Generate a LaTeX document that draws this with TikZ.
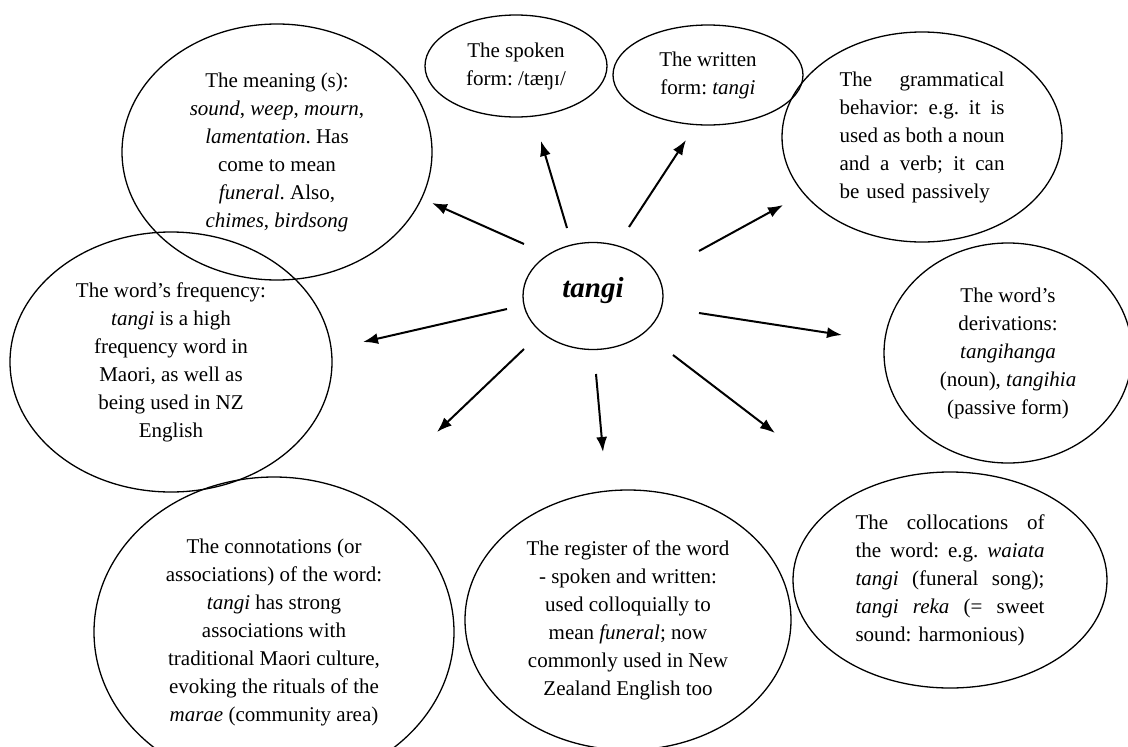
\documentclass[tikz,border=0pt]{standalone}
\usepackage{fontspec}
\setmainfont{Liberation Serif}
\usetikzlibrary{arrows.meta,shapes.geometric}

% one justified line: words split by \hfill
\newcommand{\fullline}[2][165pt]{\makebox[#1][s]{#2}}
\frenchspacing

\begin{document}
\begin{tikzpicture}
    [
      x=1pt,y=-1pt,
      idea/.style={ellipse,draw,line width=1.3pt,inner sep=0pt,align=center,
        font=\fontsize{21}{28}\selectfont},
      post/.style={-{Latex[length=15pt,width=11pt]},line width=2pt},
    ]
    \clip (0,0) rectangle (1128,747);

    \node (tangi) [idea,minimum width=140pt,minimum height=107pt,
      text height=20pt,text depth=17pt,font=\fontsize{29}{34}\selectfont]
      at (593,296) {\textbf{\textit{tangi}}};

    \node (meaning) [idea,minimum width=310pt,minimum height=256pt] at (277,152)
      {The meaning (s):\\ \textit{sound}, \textit{weep}, \textit{mourn},\\
       \textit{lamentation}. Has\\ come to mean\\ \textit{funeral}. Also,\\
       \textit{chimes}, \textit{birdsong}};
    \node (spoken) [idea,minimum width=182pt,minimum height=102pt] at (516,66)
      {The spoken\\ form: /tæŋɪ/};
    \node (written) [idea,minimum width=190pt,minimum height=100pt] at (708,75)
      {The written\\ form: \textit{tangi}};
    \node (grammar) [idea,minimum width=280pt,minimum height=210pt,
      text width=165pt,align=left] at (922,137)
      {\fullline{The\hfill grammatical}\\
       \fullline{behavior:\hfill e.g.\hfill it\hfill is}\\
       \fullline{used\hfill as\hfill both\hfill a\hfill noun}\\
       \fullline{and\hfill a\hfill verb;\hfill it\hfill can}\\
       be used passively};
    \node (frequency) [idea,minimum width=322pt,minimum height=260pt] at (171,362)
      {The word’s frequency:\\ \textit{tangi} is a high\\ frequency word in\\
       Maori, as well as\\ being used in NZ\\ English};
    \node (derivation) [idea,minimum width=248pt,minimum height=220pt] at (1008,353)
      {The word’s\\ derivations:\\ \textit{tangihanga}\\ (noun), \textit{tangihia}\\
       (passive form)};
    \node (connotation) [idea,minimum width=360pt,minimum height=310pt] at (274,632)
      {The connotations (or\\ associations) of the word:\\ \textit{tangi} has strong\\
       associations with\\ traditional Maori culture,\\ evoking the rituals of the\\
       \textit{marae} (community area)};
    \node (register) [idea,minimum width=326pt,minimum height=260pt] at (628,620)
      {The register of the word\\ - spoken and written:\\ used colloquially to\\
       mean \textit{funeral}; now\\ commonly used in New\\ Zealand English too};
    \node (collocation) [idea,minimum width=314pt,minimum height=216pt,
      text width=189pt,align=left] at (950,580)
      {\fullline[189pt]{The\hfill collocations\hfill of}\\
       \fullline[189pt]{the\hfill word:\hfill e.g.\hfill \textit{waiata}}\\
       \fullline[189pt]{\textit{tangi}\hfill (funeral\hfill song);}\\
       \fullline[189pt]{\textit{tangi}\hfill \textit{reka}\hfill (=\hfill sweet}\\
       sound: harmonious)};

    \coordinate (meaning-from) at (524,244);
    \coordinate (meaning-to) at (432,203);
    \coordinate (spoken-from) at (567,228);
    \coordinate (spoken-to) at (541,141);
    \coordinate (written-from) at (629,227);
    \coordinate (written-to) at (686,140);
    \coordinate (grammar-from) at (699,251);
    \coordinate (grammar-to) at (783,205);
    \coordinate (derivation-from) at (699,313);
    \coordinate (derivation-to) at (842,335);
    \coordinate (collocation-from) at (673,355);
    \coordinate (collocation-to) at (775,433);
    \coordinate (register-from) at (596,374);
    \coordinate (register-to) at (603,452);
    \coordinate (connotation-from) at (524,349);
    \coordinate (connotation-to) at (437,432);
    \coordinate (frequency-from) at (507,309);
    \coordinate (frequency-to) at (363,342);

    \path
    (meaning-from) edge [post] (meaning-to)
    (spoken-from) edge [post] (spoken-to)
    (written-from) edge [post] (written-to)
    (grammar-from) edge [post] (grammar-to)
    (derivation-from) edge [post] (derivation-to)
    (collocation-from) edge [post] (collocation-to)
    (register-from) edge [post] (register-to)
    (connotation-from) edge [post] (connotation-to)
    (frequency-from) edge [post] (frequency-to)
    ;

  \end{tikzpicture}
\end{document}
